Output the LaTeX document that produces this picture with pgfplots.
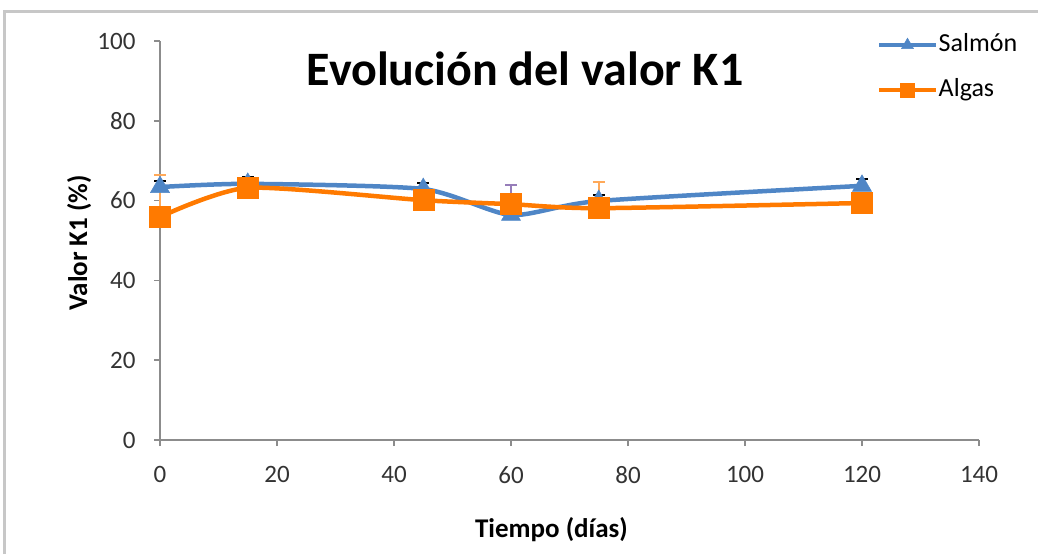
\documentclass[border=0pt]{standalone}
\usepackage{pgfplots}
\pgfplotsset{compat=1.18}
\usepackage{fontspec}
\setmainfont{Carlito}

\definecolor{salmon}{RGB}{79,134,198}
\definecolor{algas}{RGB}{255,122,0}
\definecolor{axisgray}{RGB}{140,140,140}

\begin{document}
\begin{tikzpicture}
\path[use as bounding box] (0,0) rectangle (1038pt,554pt);
% frame edges of the chart area
\draw[line width=3pt, black!22] (4pt,0) -- (4pt,542pt) -- (1038pt,542pt);
\begin{axis}[
  at={(160pt,114pt)}, anchor=south west,
  scale only axis, width=819pt, height=399pt,
  xmin=0, xmax=140, ymin=0, ymax=100,
  xtick={0,20,...,140}, ytick={0,20,...,100},
  axis lines=left, axis line style={-, axisgray, line width=1.5pt},
  tick style={axisgray, line width=1.5pt},
  tick align=outside, major tick length=6pt,
  clip=false,
  /pgf/number format/assume math mode=true,
  ticklabel style={font=\fontsize{25}{30}\selectfont, text=black!80},
  xticklabel style={yshift=-17pt},
  yticklabel style={xshift=-15pt},
  title={Evolución del valor K1},
  title style={at={(0.4457,0.873)}, anchor=base, font=\bfseries\fontsize{48}{56}\selectfont},
  xlabel={Tiempo (días)},
  xlabel style={at={(0.478,-0.2456)}, anchor=base, font=\bfseries\fontsize{27}{32}\selectfont},
  ylabel={Valor K1 (\%)},
  ylabel style={at={(-0.0891,0.494)}, anchor=base, font=\bfseries\fontsize{27}{32}\selectfont},
  legend style={at={(0.8755,1.0276)}, anchor=north west, draw=none, fill=none,
    inner sep=0pt, row sep=15pt, font=\fontsize{26}{31}\selectfont,
    nodes={inner sep=1pt, text depth=8pt, text height=20pt}},
  legend cell align=left,
  legend image code/.code={\draw[mark repeat=2, mark phase=2, #1, mark size=7pt]
    plot coordinates {(0pt,0pt) (28pt,0pt) (56pt,0pt)};},
]
% error bars (plus direction only)
\addplot[draw=none, forget plot, error bars/.cd, y dir=plus, y explicit,
  error bar style={draw=black, solid, line width=2pt},
  error mark options={draw=black, rotate=90, mark size=6pt, line width=2pt}]
  coordinates {(0,63.4) +- (0,1.6) (15,64.2) +- (0,1.6) (45,62.9) +- (0,1.6)
               (75,59.9) +- (0,1.6) (120,63.7) +- (0,1.6)};
\addplot[draw=none, forget plot, error bars/.cd, y dir=plus, y explicit,
  error bar style={draw={rgb,255:red,150;green,125;blue,185}, solid, line width=2pt},
  error mark options={draw={rgb,255:red,150;green,125;blue,185}, rotate=90, mark size=6pt, line width=2pt}]
  coordinates {(60,56.4) +- (0,7.6)};
\addplot[draw=none, forget plot, error bars/.cd, y dir=plus, y explicit,
  error bar style={draw=algas!65, solid, line width=2pt},
  error mark options={draw=algas!65, rotate=90, mark size=6pt, line width=2pt}]
  coordinates {(0,55.9) +- (0,10.4) (75,58.1) +- (0,6.6)};

\addplot[salmon, line width=4.5pt, smooth, tension=0.4, mark=triangle*,
  mark options={solid, fill=salmon, line width=0.5pt}, mark size=11pt]
  coordinates {(0,63.4) (15,64.2) (45,62.9) (60,56.4) (75,59.9) (120,63.7)};
\addlegendentry{Salmón}
\addplot[algas, line width=4.5pt, smooth, tension=0.4, mark=square*,
  mark options={solid, fill=algas, line width=0.5pt}, mark size=10.5pt]
  coordinates {(0,55.9) (15,63.2) (45,60.1) (60,59.1) (75,58.1) (120,59.4)};
\addlegendentry{Algas}
\end{axis}
\end{tikzpicture}
\end{document}
